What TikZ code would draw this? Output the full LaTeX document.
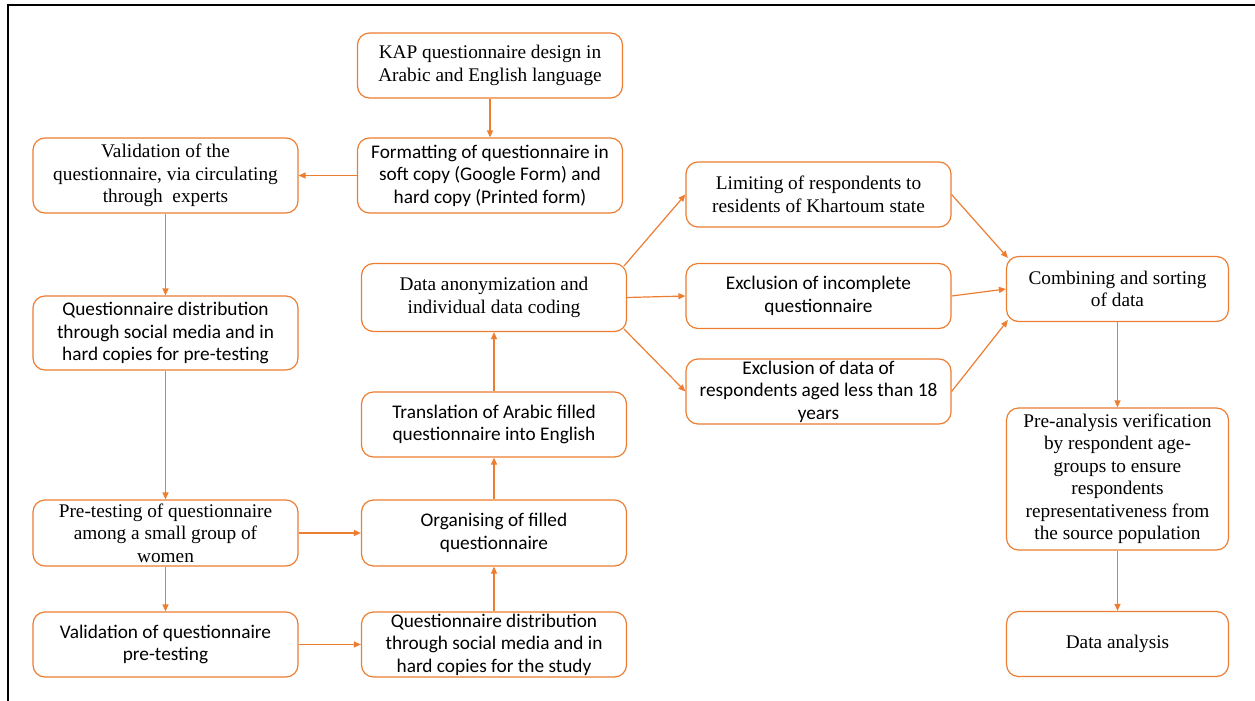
\documentclass[tikz,border=0pt]{standalone}
\usepackage{fontspec}
\setmainfont{Liberation Serif}
\newfontfamily\calfont{Carlito}
\usetikzlibrary{arrows.meta}
\definecolor{flowOrange}{RGB}{237,125,49}

\begin{document}
\begin{tikzpicture}[x=1pt, y=-1pt,
  box/.style={draw=flowOrange, line width=1.2pt, rounded corners=12pt, align=center,
    minimum width=265pt, minimum height=65pt, inner sep=0.5pt,
    font=\fontsize{19.3}{22.5}\selectfont},
  sbox/.style={box, font=\calfont\fontsize{19.3}{22.5}\selectfont},
  link/.style={draw=flowOrange, line width=1.2pt, -{Triangle[length=7pt,width=6pt]}}]
\useasboundingbox (0,0) rectangle (1255,701);
\draw[line width=2pt] (8,701) -- (8,5) -- (1255,5);
% left and middle columns
\node[box] (kap) at (490,65.5) {KAP questionnaire design in\\Arabic and English language};
\node[sbox, minimum height=75pt] (fmt) at (490,175.5) {Formatting of questionnaire in\\soft copy (Google Form) and\\hard copy (Printed form)};
\node[box, minimum height=75pt] (valexp) at (165.5,175.5) {Validation of the\\questionnaire, via circulating\\through\ \ experts};
\node[sbox, minimum height=74pt] (distpre) at (165.5,333) {Questionnaire distribution\\through social media and in\\hard copies for pre-testing};
\node[box, minimum height=66pt] (pretest) at (165.5,533) {Pre-testing of questionnaire\\among a small group of\\women};
\node[sbox] (valpre) at (165.5,644.5) {Validation of questionnaire\\pre-testing};
\node[box, minimum height=68pt] (anon) at (494,297.5) {Data anonymization and\\individual data coding};
\node[sbox] (transl) at (494,424.5) {Translation of Arabic filled\\questionnaire into English};
\node[sbox, minimum height=66pt] (organ) at (494,533) {Organising of filled\\questionnaire};
\node[sbox] (diststudy) at (494,644.5) {Questionnaire distribution\\through social media and in\\hard copies for the study};
% filtering and analysis
\node[box] (limit) at (818.5,194.5) {Limiting of respondents to\\residents of Khartoum state};
\node[sbox] (exclinc) at (818.5,296) {Exclusion of incomplete\\questionnaire};
\node[sbox] (excldata) at (818.5,391.5) {Exclusion of data of\\respondents aged less than 18\\years};
\node[box, minimum width=222pt] (comb) at (1117.5,289) {Combining and sorting\\of data};
\node[box, minimum width=222pt, minimum height=142pt] (preana) at (1117.5,479) {Pre-analysis verification\\by respondent age-\\groups to ensure\\respondents\\representativeness from\\the source population};
\node[box, minimum width=222pt] (dana) at (1117.5,644) {Data analysis};

\draw[link] (kap) -- (fmt);
\draw[link] (fmt) -- (valexp);
\draw[link] (valexp) -- (distpre);
\draw[link] (distpre) -- (pretest);
\draw[link] (pretest) -- (valpre);
\draw[link] (pretest) -- (organ);
\draw[link] (valpre) -- (diststudy);
\draw[link] (diststudy) -- (organ);
\draw[link] (organ) -- (transl);
\draw[link] (transl) -- (anon);
\draw[link] ([shift={(-3,3)}]anon.north east) -- (limit.west);
\draw[link] (anon.east) -- (exclinc.west);
\draw[link] ([shift={(-3,-3)}]anon.south east) -- (excldata.west);
\draw[link] (limit.east) -- ([shift={(2,2)}]comb.north west);
\draw[link] (exclinc.east) -- (comb.west);
\draw[link] (excldata.east) -- ([shift={(2,-2)}]comb.south west);
\draw[link] (comb) -- (preana);
\draw[link] (preana) -- (dana);
\end{tikzpicture}
\end{document}
